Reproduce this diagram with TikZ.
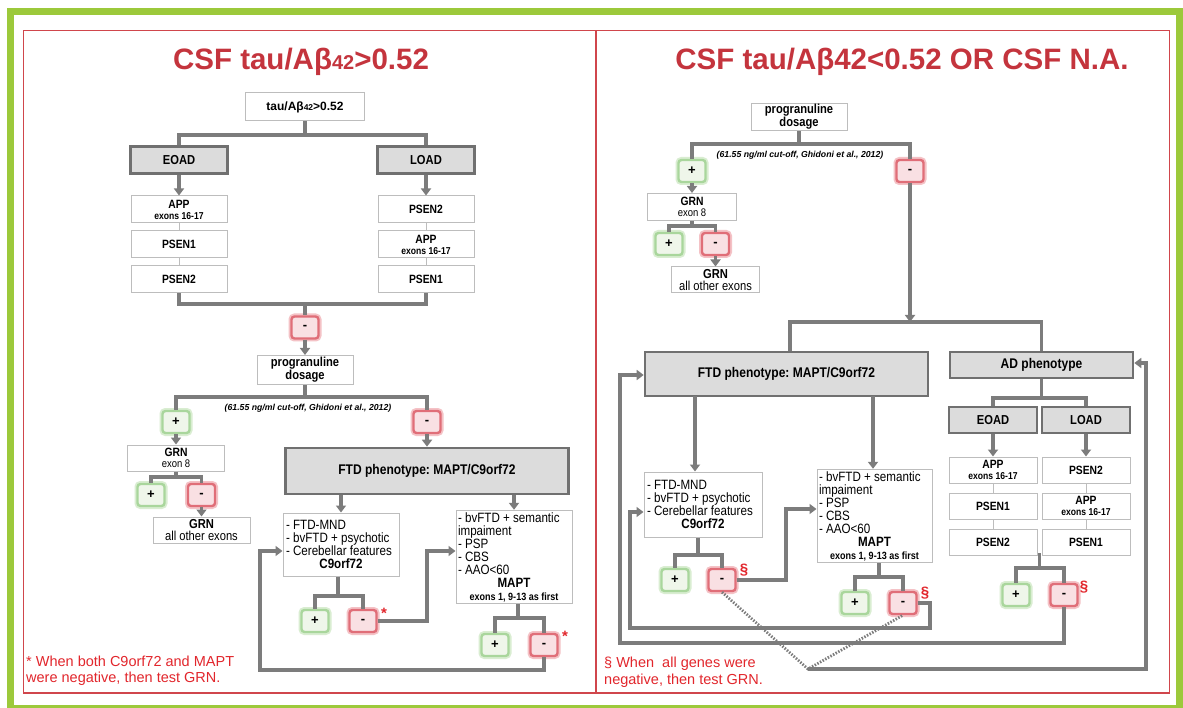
\documentclass[tikz,border=0pt]{standalone}
\usepackage{fontspec}
\setmainfont{Liberation Sans}
\newfontfamily\narrowfont[FakeStretch=0.86]{Liberation Sans}
\usetikzlibrary{positioning,arrows.meta}
\definecolor{frameGreen}{HTML}{9CC93B}
\definecolor{panelRed}{HTML}{D0464C}
\definecolor{titleRed}{HTML}{C4343D}
\definecolor{noteRed}{HTML}{E2262C}
\definecolor{lineGray}{HTML}{7C7C7C}
\definecolor{boxGray}{HTML}{BDBDBD}
\definecolor{phenoFill}{HTML}{DCDCDC}
\definecolor{phenoLine}{HTML}{707070}
\definecolor{posFill}{HTML}{EFF6EA}
\definecolor{posLine}{HTML}{A9D69C}
\definecolor{posGlow}{HTML}{D9EDD1}
\definecolor{negFill}{HTML}{F9E0E3}
\definecolor{negLine}{HTML}{E06E78}
\definecolor{negGlow}{HTML}{F4C2C6}
\frenchspacing
\begin{document}
\begin{tikzpicture}[x=1pt, y=-1pt, node distance=7pt]
      \tikzset{title/.style  = {text=titleRed, inner sep=0pt,
          font  = \bfseries\fontsize{29.5}{30}\selectfont},
        gene/.style   = {draw=boxGray, line width=1pt, fill=white,
          minimum width=96pt, minimum height=27pt, inner sep=1pt, align=center,
          font  = \narrowfont\bfseries\fontsize{12}{11}\selectfont},
        pheno/.style  = {draw=phenoLine, line width=2.6pt, fill=phenoFill, inner sep=1pt,
          font  = \narrowfont\bfseries\fontsize{13}{13}\selectfont},
        list/.style   = {draw=boxGray, line width=1pt, fill=white, inner xsep=3pt,
          inner ysep=2pt, align=left, execute at begin node={\spaceskip=0pt\xspaceskip=0pt},
          font  = \narrowfont\fontsize{13.5}{13}\selectfont},
        signbox/.style = {line width=2.4pt, rounded corners=3pt, minimum width=27pt,
          minimum height=22pt, inner sep=0pt,
          font  = \bfseries\fontsize{13}{13}\selectfont},
        plusbox/.style  = {signbox, draw=posLine, fill=posFill,
          preaction={draw=posGlow, line width=6pt}},
        minusbox/.style = {signbox, draw=negLine, fill=negFill,
          preaction={draw=negGlow, line width=6pt}},
        conn/.style   = {draw=lineGray, line width=3.1pt},
        arr/.style    = {conn, -{Triangle[width=10pt,length=7pt]}},
        link/.style   = {draw=boxGray, line width=0.9pt},
        dotline/.style = {draw=lineGray, line width=2.8pt, dash pattern=on 1.5pt off 1.5pt},
        cite/.style   = {inner sep=0pt, font=\bfseries\itshape\fontsize{8.7}{9}\selectfont},
        note/.style   = {text=noteRed, align=left, inner sep=0pt, anchor=north west,
          font  = \fontsize{14.5}{16.5}\selectfont},
        flag/.style   = {text=noteRed, inner sep=0pt,
          font  = \bfseries\fontsize{15}{15}\selectfont}}
      \useasboundingbox (0,0) rectangle (1183,708);
      \fill[white] (0,0) rectangle (1183,708);
      \draw[frameGreen, line width=7pt] (10,11.5) rectangle (1179.5,708);
      \draw[panelRed, line width=1.2pt] (23.5,30.5) rectangle (1169.5,693);
      \draw[panelRed, line width=1.2pt] (596,30.5) -- (596,693);
      \node[title] (titleL) at (301,62) {CSF tau/Aβ{\fontsize{20}{20}\selectfont 42}>0.52};
      \node[gene, minimum width=119pt, minimum height=28pt,
        font=\bfseries\fontsize{12}{12}\selectfont] (ratio) at (305,107)
        {tau/Aβ{\fontsize{8.5}{9}\selectfont 42}>0.52};
      \node[pheno, minimum width=97pt, minimum height=27pt] (eoadL) at (179,160) {EOAD};
      \node[pheno, minimum width=97pt, minimum height=27pt] (loadL) at (426,160) {LOAD};
      \node[gene] (appL) at (179,209.5) {APP\\{\fontsize{10}{10}\selectfont exons 16-17}};
      \node[gene, below=of appL] (psenAL) {PSEN1};
      \node[gene, below=of psenAL] (psenBL) {PSEN2};
      \node[gene] (psenBR) at (426,209.5) {PSEN2};
      \node[gene, below=of psenBR] (appR) {APP\\{\fontsize{10}{10}\selectfont exons 16-17}};
      \node[gene, below=of appR] (psenAR) {PSEN1};
      \coordinate (j1) at (305,135);
      \draw[conn] (ratio) -- (j1);
      \draw[conn] (eoadL) |- (j1) -| (loadL);
      \draw[arr] (eoadL) -- (appL);
      \draw[arr] (loadL) -- (psenBR);
      \draw[link] (appL) -- (psenAL) -- (psenBL);
      \draw[link] (psenBR) -- (appR) -- (psenAR);
      \coordinate (j2) at (305,304);
      \node[minusbox] (negL1) at (305,327.5) {-};
      \draw[conn] (psenBL) |- (j2) -| (psenAR);
      \draw[conn] (j2) -- (negL1);
      \node[gene, minimum height=29pt, font=\narrowfont\bfseries\fontsize{13}{11.5}\selectfont]
        (progL) at (305,370) {progranuline\\dosage};
      \draw[arr] (negL1) -- (progL);
      \coordinate (j3) at (305,397);
      \node[plusbox] (posL1) at (176,422) {+};
      \node[minusbox] (negL2) at (427,422) {-};
      \draw[conn] (progL) -- (j3);
      \draw[conn] (posL1) |- (j3) -| (negL2);
      \node[cite] (citeL) at (308,408) {(61.55 ng/ml cut-off, Ghidoni et al., 2012)};
      \node[gene, minimum width=97pt, minimum height=26pt] (grn8L) at (176,458)
        {GRN\\{\mdseries\fontsize{11}{10}\selectfont exon 8}};
      \draw[arr] (posL1) -- (grn8L);
      \coordinate (j4) at (176,477);
      \node[plusbox] (posL2) at (151,495) {+};
      \node[minusbox] (negL3) at (201.5,495) {-};
      \draw[conn] (grn8L) -- (j4);
      \draw[conn] (posL2) |- (j4) -| (negL3);
      \node[gene, minimum width=97pt, minimum height=26pt,
        font=\narrowfont\bfseries\fontsize{13}{11.5}\selectfont] (grnAllL) at (201.5,530)
        {GRN\\{\mdseries all other exons}};
      \draw[arr] (negL3) -- (grnAllL);
      \node[pheno, minimum width=283pt, minimum height=46pt,
        font=\narrowfont\bfseries\fontsize{14}{14}\selectfont] (ftdL) at (427,471)
        {FTD phenotype: MAPT/C9orf72};
      \draw[arr] (negL2) -- (ftdL);
      \node[list, text width=110pt, minimum height=63pt] (c9L) at (341,544.5)
        {- FTD-MND\\- bvFTD + psychotic\\- Cerebellar features\\
         \makebox[\hsize]{\bfseries C9orf72}};
      \node[list, inner xsep=2pt, text width=112pt, minimum height=88pt] (maptL) at (514,557)
        {- bvFTD + semantic\\impaiment\\- PSP\\- CBS\\- AAO<60\\
         \makebox[\hsize]{\bfseries MAPT}\\
         \makebox[\hsize]{\bfseries\fontsize{10.5}{9}\selectfont exons 1, 9-13 as first}};
      \draw[arr] (ftdL.south -| c9L.north) -- (c9L);
      \draw[arr] (ftdL.south -| maptL.north) -- (maptL);
      \coordinate (j5) at (338,596);
      \node[plusbox] (posL3) at (315,621) {+};
      \node[minusbox] (negL4) at (363,621) {-};
      \draw[conn] (c9L.south -| j5) -- (j5);
      \draw[conn] (posL3) |- (j5) -| (negL4);
      \node[flag] (astL1) at (384,613) {*};
      \coordinate (k1) at (427,621);
      \coordinate (k2) at (427,551);
      \draw[arr] (negL4) -- (k1) -- (k2) -- (k2 -| maptL.west);
      \coordinate (j6) at (518,618);
      \node[plusbox] (posL4) at (495,645) {+};
      \node[minusbox] (negL5) at (544,645) {-};
      \draw[conn] (maptL.south -| j6) -- (j6);
      \draw[conn] (posL4) |- (j6) -| (negL5);
      \node[flag] (astL2) at (565,636) {*};
      \coordinate (k3) at (544,670);
      \coordinate (k4) at (260,670);
      \coordinate (k5) at (260,551);
      \draw[arr] (negL5) -- (k3) -- (k4) -- (k5) -- (k5 -| c9L.west);
      \node[note] (noteL) at (26,655.5) {* When both C9orf72 and MAPT\\were negative, then test GRN.};
      \node[title] (titleR) at (902,62) {CSF tau/Aβ42<0.52 OR CSF N.A.};
      \node[gene, minimum height=27pt, font=\narrowfont\bfseries\fontsize{13}{11.5}\selectfont]
        (progR) at (799,117) {progranuline\\dosage};
      \coordinate (m1) at (799,144);
      \node[plusbox] (posR1) at (692,171) {+};
      \node[minusbox] (negR1) at (910,171) {-};
      \draw[conn] (progR) -- (m1);
      \draw[conn] (posR1) |- (m1) -| (negR1);
      \node[cite] (citeR) at (800,155) {(61.55 ng/ml cut-off, Ghidoni et al., 2012)};
      \node[gene, minimum width=89pt, minimum height=27pt] (grn8R) at (692,207)
        {GRN\\{\mdseries\fontsize{11}{10}\selectfont exon 8}};
      \draw[arr] (posR1) -- (grn8R);
      \coordinate (m2) at (692,226);
      \node[plusbox] (posR2) at (669,244) {+};
      \node[minusbox] (negR2) at (715.5,244) {-};
      \draw[conn] (grn8R) -- (m2);
      \draw[conn] (posR2) |- (m2) -| (negR2);
      \node[gene, minimum width=88pt, minimum height=26pt,
        font=\narrowfont\bfseries\fontsize{13}{11.5}\selectfont] (grnAllR) at (715.5,280)
        {GRN\\{\mdseries all other exons}};
      \draw[arr] (negR2) -- (grnAllR);
      \coordinate (m3) at (910,322);
      \draw[arr] (negR1) -- (m3);
      \node[pheno, minimum width=283pt, minimum height=44pt,
        font=\narrowfont\bfseries\fontsize{14}{14}\selectfont] (ftdR) at (786.5,374)
        {FTD phenotype: MAPT/C9orf72};
      \node[pheno, minimum width=183pt, minimum height=26pt,
        font=\narrowfont\bfseries\fontsize{14}{14}\selectfont] (adR) at (1041.5,365)
        {AD phenotype};
      \coordinate (m4) at (790,322);
      \coordinate (m5) at (1041.5,322);
      \draw[conn] (ftdR.north -| m4) -- (m4) -- (m5) -- (adR.north -| m5);
      \coordinate (m6) at (1041.5,398);
      \node[pheno, minimum width=88pt, minimum height=26pt] (eoadR) at (993,420) {EOAD};
      \node[pheno, minimum width=88pt, minimum height=26pt] (loadR) at (1086,420) {LOAD};
      \draw[conn] (adR) -- (m6);
      \draw[conn] (eoadR) |- (m6) -| (loadR);
      \node[gene, minimum width=88pt, minimum height=26pt] (appR2) at (993,470)
        {APP\\{\fontsize{10}{10}\selectfont exons 16-17}};
      \node[gene, minimum width=88pt, minimum height=26pt, below=9pt of appR2] (psenAR2) {PSEN1};
      \node[gene, minimum width=88pt, minimum height=26pt, below=9pt of psenAR2] (psenBR2) {PSEN2};
      \node[gene, minimum width=88pt, minimum height=26pt] (psenBR3) at (1086,470) {PSEN2};
      \node[gene, minimum width=88pt, minimum height=26pt, below=9pt of psenBR3] (appR3)
        {APP\\{\fontsize{10}{10}\selectfont exons 16-17}};
      \node[gene, minimum width=88pt, minimum height=26pt, below=9pt of appR3] (psenAR3) {PSEN1};
      \draw[arr] (eoadR) -- (appR2);
      \draw[arr] (loadR) -- (psenBR3);
      \draw[link] (appR2) -- (psenAR2) -- (psenBR2);
      \draw[link] (psenBR3) -- (appR3) -- (psenAR3);
      \coordinate (m8) at (1039.5,553);
      \coordinate (m7) at (1039.5,568);
      \node[plusbox] (posR3) at (1016,595) {+};
      \node[minusbox] (negR3) at (1064,595) {-};
      \draw[conn] (m8) -- (m7);
      \draw[conn] (posR3) |- (m7) -| (negR3);
      \node[flag] (secR3) at (1084,587) {§};
      \coordinate (m9) at (1064,643);
      \coordinate (m10) at (620,643);
      \coordinate (m11) at (620,375);
      \draw[arr] (negR3) -- (m9) -- (m10) -- (m11) -- (m11 -| ftdR.west);
      \node[list, text width=112pt, minimum height=65pt] (c9R) at (703,504.5)
        {- FTD-MND\\- bvFTD + psychotic\\- Cerebellar features\\
         \makebox[\hsize]{\bfseries C9orf72}};
      \node[list, inner xsep=2pt, text width=111pt, minimum height=88pt] (maptR) at (874.5,516)
        {- bvFTD + semantic\\impaiment\\- PSP\\- CBS\\- AAO<60\\
         \makebox[\hsize]{\bfseries MAPT}\\
         \makebox[\hsize]{\bfseries\fontsize{10.5}{9}\selectfont exons 1, 9-13 as first}};
      \coordinate (m12) at (695,396);
      \coordinate (m24) at (873,396);
      \draw[arr] (m12) -- (m12 |- c9R.north);
      \draw[arr] (m24) -- (m24 |- maptR.north);
      \coordinate (m13) at (698,555);
      \node[plusbox] (posR4) at (675,580) {+};
      \node[minusbox] (negR4) at (722,580) {-};
      \draw[conn] (m13 |- c9R.south) -- (m13);
      \draw[conn] (posR4) |- (m13) -| (negR4);
      \node[flag] (secR4) at (744,570) {§};
      \coordinate (m14) at (786,580);
      \coordinate (m15) at (786,509);
      \draw[arr] (negR4) -- (m14) -- (m15) -- (m15 -| maptR.west);
      \coordinate (m16) at (879,577);
      \node[plusbox] (posR5) at (855,603) {+};
      \node[minusbox] (negR5) at (903,603) {-};
      \draw[conn] (m16 |- maptR.south) -- (m16);
      \draw[conn] (posR5) |- (m16) -| (negR5);
      \node[flag] (secR5) at (925,593) {§};
      \coordinate (m17) at (930,603);
      \coordinate (m18) at (930,628);
      \coordinate (m19) at (630,628);
      \coordinate (m20) at (630,512);
      \draw[arr] (negR5) -- (m17) -- (m18) -- (m19) -- (m20) -- (m20 -| c9R.west);
      \coordinate (m21) at (808,669);
      \draw[dotline] (negR4.south) -- (m21) -- (negR5.south);
      \coordinate (m22) at (1146,669);
      \coordinate (m23) at (1146,363);
      \draw[arr] (m21) -- (m22) -- (m23) -- (m23 -| adR.east);
      \node[note] (noteR) at (604,657) {§ When\ \ all genes were\\negative, then test GRN.};
    \end{tikzpicture}
\end{document}
